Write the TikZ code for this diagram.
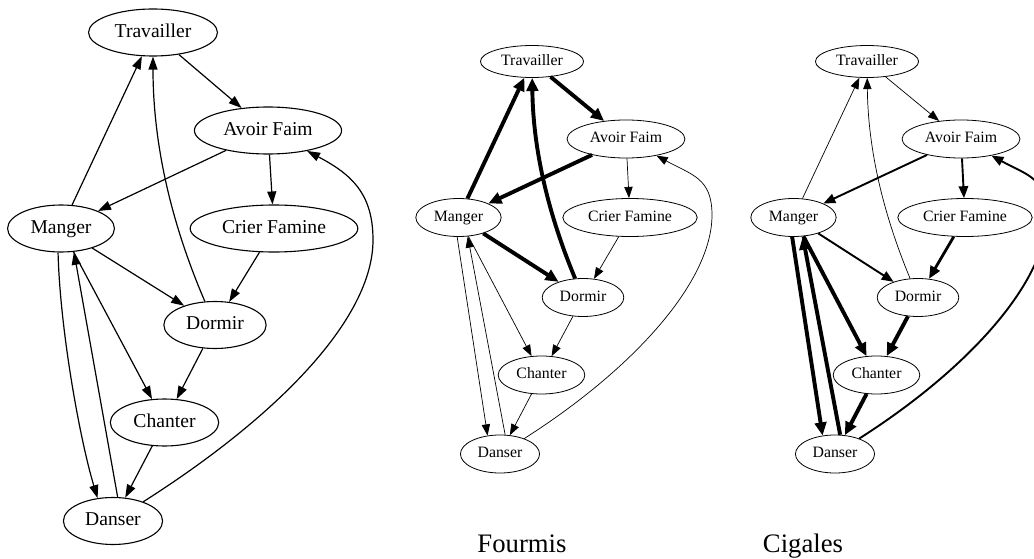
\documentclass[tikz,border=0pt]{standalone}
\usepackage{fontspec}
\setmainfont{Liberation Serif}
\usetikzlibrary{arrows.meta,shapes.geometric}

\begin{document}
\begin{tikzpicture}[->,>={Triangle[length=10.8pt 0.6,width=7.6pt 1]},x=1pt,y=-1pt]

  \tikzstyle{grand}=[ellipse,draw,line width=1.1pt,inner xsep=7.3pt,inner ysep=0pt,
                     minimum height=47pt,text height=13.5pt,text depth=4.3pt,
                     font=\fontsize{19.6pt}{20pt}\selectfont]
  \tikzstyle{petit}=[ellipse,draw,line width=0.8pt,inner xsep=5.6pt,inner ysep=0pt,
                     minimum height=38pt,text height=10.9pt,text depth=3.5pt,
                     font=\fontsize{15.8pt}{16pt}\selectfont]
  \tikzstyle{titre}=[anchor=base,font=\fontsize{26.7pt}{28pt}\selectfont]
  \tikzstyle{fin}=[line width=0.7pt]
  \tikzstyle{moyen}=[line width=1.9pt]
  \tikzstyle{fort}=[line width=2.8pt]
  \tikzstyle{epais}=[line width=3.9pt]

  \useasboundingbox (0,0) rectangle (1034,559);
  \clip (0,0) rectangle (1034,559);

  % graphe complet
  \node[grand] (T1)  at (153,32.5)    {Travailler};
  \node[grand] (AF1) at (268,130.5)   {Avoir Faim};
  \node[grand] (M1)  at (61,228.5)    {Manger};
  \node[grand] (CF1) at (274,228.5)   {Crier Famine};
  \node[grand] (Do1) at (215,325)     {Dormir};
  \node[grand] (Ch1) at (164.5,422.5) {Chanter};
  \node[grand] (Da1) at (113,521)     {Danser};

  \begin{scope}[line width=1.2pt,>={Triangle[length=13pt,width=9pt]}]
  \path
  (T1)      edge (AF1)
  (AF1)     edge (M1)
  (AF1)     edge (CF1)
  (M1)      edge (T1)
  (CF1)     edge (Do1)
  (M1)      edge (Do1)
  (M1)      edge (Ch1)
  (Do1)     edge (Ch1)
  (Ch1)     edge (Da1)
  (Da1.79)  edge (M1.-61)
  ;
  \draw (Do1) .. controls (167.5,214.5) and (153,136) .. (T1);
  \draw (M1.-97) .. controls (60,330) and (80,440) .. (Da1.124);
  \draw (Da1) .. controls (275,418) and (373,320) .. (373,240)
              .. controls (373,195) and (353,175) .. (AF1);
  \end{scope}

  % fourmis
  \node[petit,minimum height=32pt] (T2) at (532,61.5) {Travailler};
  \node[petit] (AF2) at (626,139)   {Avoir Faim};
  \node[petit] (M2)  at (458.5,217.5) {Manger};
  \node[petit] (CF2) at (630,217.5) {Crier Famine};
  \node[petit] (Do2) at (583,297.5) {Dormir};
  \node[petit] (Ch2) at (541.5,375) {Chanter};
  \node[petit] (Da2) at (500,454)   {Danser};

  \path
  (T2)      edge [epais] (AF2)
  (AF2)     edge [epais] (M2)
  (AF2)     edge [fin]   (CF2)
  (M2)      edge [epais] (T2)
  (CF2)     edge [fin]   (Do2)
  (M2)      edge [epais] (Do2)
  (M2)      edge [fin]   (Ch2)
  (Do2)     edge [fin]   (Ch2)
  (Ch2)     edge [fin]   (Da2)
  (M2.-94)  edge [fin]   (Da2.124)
  (Da2.75)  edge [fin]   (M2.-64)
  ;
  \draw[epais] (Do2) .. controls (545,206) and (533,143) .. (T2);
  \draw[fin] (Da2) .. controls (635,368) and (712,281) .. (712,215)
                   .. controls (712,178) and (692,175) .. (AF2);

  \node[titre] (fourmis) at (522,552) {Fourmis};

  % cigales
  \begin{scope}[xshift=335pt]
  \node[petit,minimum height=32pt] (T3) at (532,61.5) {Travailler};
  \node[petit] (AF3) at (626,139)   {Avoir Faim};
  \node[petit] (M3)  at (458.5,217.5) {Manger};
  \node[petit] (CF3) at (630,217.5) {Crier Famine};
  \node[petit] (Do3) at (583,297.5) {Dormir};
  \node[petit] (Ch3) at (541.5,375) {Chanter};
  \node[petit] (Da3) at (500,454)   {Danser};

  \path
  (T3)      edge [fin]   (AF3)
  (AF3)     edge [moyen] (M3)
  (AF3)     edge [moyen] (CF3)
  (M3)      edge [fin]   (T3)
  (CF3)     edge [fort]  (Do3)
  (M3)      edge [moyen] (Do3)
  (M3)      edge [epais] (Ch3)
  (Do3)     edge [epais] (Ch3)
  (Ch3)     edge [epais] (Da3)
  (M3.-94)  edge [epais] (Da3.124)
  (Da3.75)  edge [epais] (M3.-64)
  ;
  \draw[fin] (Do3) .. controls (545,206) and (533,143) .. (T3);
  \draw[moyen] (Da3) .. controls (635,368) and (712,281) .. (712,215)
                     .. controls (712,178) and (692,175) .. (AF3);
  \end{scope}

  \node[titre] (cigales) at (803,552) {Cigales};
\end{tikzpicture}
\end{document}
